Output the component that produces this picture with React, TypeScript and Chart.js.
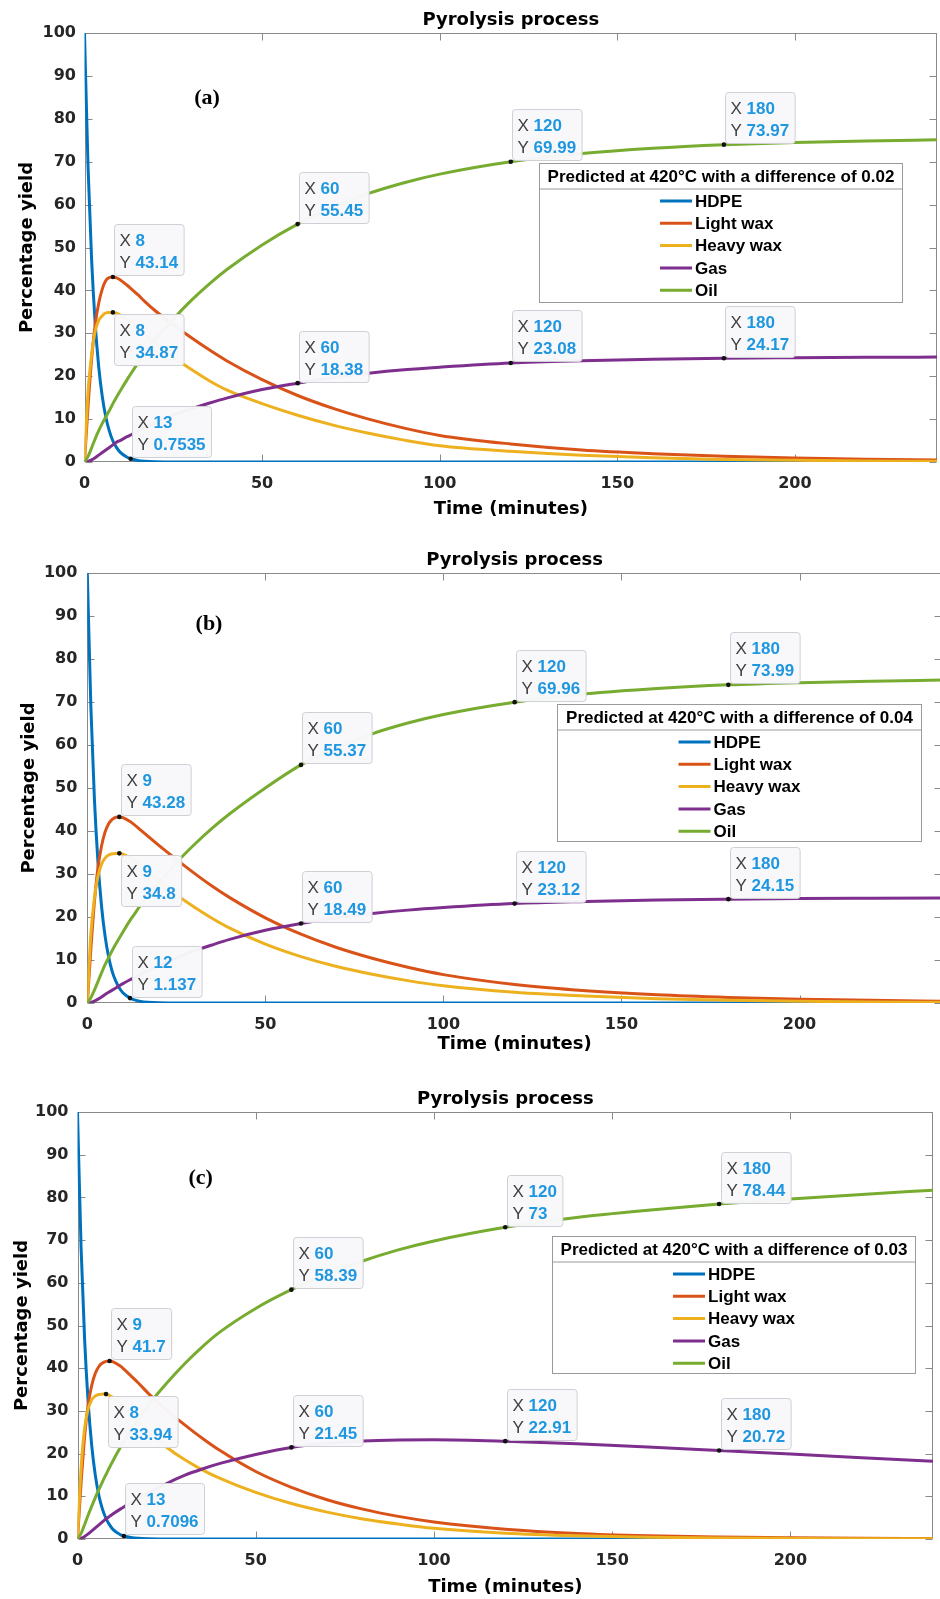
import React, { useEffect, useRef } from 'react';
import { Chart, registerables } from 'chart.js';

Chart.register(...registerables);

// ---------------- data ----------------
const timeMinutes = [0, 1, 2, 3, 4, 5, 6, 7, 8, 9, 10, 12, 13, 15, 17, 20, 25, 30, 35, 40, 50, 60, 70, 80, 90, 100, 120, 140, 160, 180, 200, 220, 240];
const seriesNames = ['HDPE', 'Light wax', 'Heavy wax', 'Gas', 'Oil'];
const xTickValues = [0, 50, 100, 150, 200];
const yTickValues = [0, 10, 20, 30, 40, 50, 60, 70, 80, 90, 100];
const chartTitle = 'Pyrolysis process';
const xAxisTitle = 'Time (minutes)';
const yAxisTitle = 'Percentage yield';

// Panel (a)
const hdpeA = [100, 68.7, 47.2, 32.4, 22.2, 15.3, 10.5, 7.2, 4.9, 3.4, 2.3, 1.1, 0.7535, 0.36, 0.17, 0.05, 0.01, 0, 0, 0, 0, 0, 0, 0, 0, 0, 0, 0, 0, 0, 0, 0, 0];
const lightWaxA = [0, 13, 24, 32, 37, 40.3, 42.3, 43.0, 43.14, 42.9, 42.5, 41.2, 40.5, 39.0, 37.4, 35.2, 32.0, 29.0, 26.2, 23.6, 19.2, 15.5, 12.5, 10.0, 7.9, 6.2, 4.2, 2.8, 1.95, 1.35, 0.95, 0.65, 0.45];
const heavyWaxA = [0, 16.5, 25, 30.5, 33, 34.1, 34.75, 34.85, 34.87, 34.7, 34.3, 33.2, 32.6, 31.2, 29.8, 27.6, 24.4, 21.6, 19.0, 16.8, 13.6, 10.9, 8.6, 6.7, 5.1, 3.8, 2.5, 1.6, 1.0, 0.6, 0.38, 0.24, 0.15];
const gasA = [0, 0.15, 0.5, 1.0, 1.6, 2.2, 2.8, 3.4, 4.0, 4.6, 5.0, 5.9, 6.3, 7.2, 8.0, 9.2, 11.0, 12.4, 13.7, 14.9, 16.9, 18.38, 19.7, 20.7, 21.5, 22.1, 23.08, 23.6, 23.95, 24.17, 24.3, 24.4, 24.45];
const oilA = [0, 1.3, 3.3, 5.4, 7.3, 9.0, 10.5, 12.0, 13.6, 15.1, 16.5, 19.2, 20.5, 23.0, 25.3, 28.6, 33.3, 37.6, 41.4, 44.8, 50.6, 55.45, 59.4, 62.6, 65.1, 67.1, 69.99, 71.9, 73.15, 73.97, 74.5, 74.85, 75.1];
const tipTimesA = [8, 8, 13, 60, 120, 180, 60, 120, 180];
const tipValuesA = [43.14, 34.87, 0.7535, 55.45, 69.99, 73.97, 18.38, 23.08, 24.17];
const legendTitleA = 'Predicted at 420°C with a difference of 0.02';

// Panel (b)
const hdpeB = [100, 68.9, 47.4, 32.7, 22.5, 15.5, 10.7, 7.3, 5.1, 3.5, 2.4, 1.137, 0.78, 0.37, 0.18, 0.06, 0.01, 0, 0, 0, 0, 0, 0, 0, 0, 0, 0, 0, 0, 0, 0, 0, 0];
const lightWaxB = [0, 12.5, 23.5, 31.5, 36.5, 39.8, 41.7, 42.7, 43.2, 43.28, 43.1, 42.2, 41.6, 40.2, 38.8, 36.7, 33.4, 30.2, 27.2, 24.5, 19.8, 16.0, 12.9, 10.4, 8.3, 6.6, 4.3, 2.85, 1.9, 1.3, 0.9, 0.62, 0.43];
const heavyWaxB = [0, 16, 24.5, 29.5, 32.3, 33.7, 34.4, 34.7, 34.79, 34.8, 34.6, 33.8, 33.3, 32.0, 30.6, 28.5, 25.2, 22.3, 19.7, 17.4, 13.7, 10.8, 8.5, 6.7, 5.2, 4.0, 2.5, 1.6, 1.0, 0.62, 0.4, 0.25, 0.16];
const gasB = [0, 0.12, 0.45, 0.9, 1.4, 2.0, 2.5, 3.0, 3.5, 4.0, 4.5, 5.4, 5.8, 6.7, 7.5, 8.7, 10.5, 12.1, 13.5, 14.8, 16.9, 18.49, 19.8, 20.8, 21.6, 22.2, 23.12, 23.6, 23.95, 24.15, 24.28, 24.36, 24.42];
const oilB = [0, 1.2, 3.0, 5.0, 7.0, 8.9, 10.6, 12.2, 13.7, 15.1, 16.5, 19.2, 20.4, 22.8, 25.0, 27.8, 32.6, 36.8, 40.6, 44.0, 50.0, 55.37, 59.4, 62.6, 65.1, 67.1, 69.96, 71.9, 73.15, 73.99, 74.5, 74.85, 75.1];
const tipTimesB = [9, 9, 12, 60, 120, 180, 60, 120, 180];
const tipValuesB = [43.28, 34.8, 1.137, 55.37, 69.96, 73.99, 18.49, 23.12, 24.15];
const legendTitleB = 'Predicted at 420°C with a difference of 0.04';

// Panel (c)
const hdpeC = [100, 68.3, 46.7, 31.9, 21.8, 14.9, 10.2, 7.0, 4.8, 3.3, 2.2, 1.04, 0.7096, 0.33, 0.15, 0.05, 0.01, 0, 0, 0, 0, 0, 0, 0, 0, 0, 0, 0, 0, 0, 0, 0, 0];
const lightWaxC = [0, 13, 24, 31.5, 36, 38.8, 40.4, 41.2, 41.6, 41.7, 41.5, 40.5, 39.8, 38.2, 36.6, 34.0, 30.2, 26.8, 23.6, 20.7, 15.8, 12.1, 9.2, 7.0, 5.3, 4.0, 2.3, 1.3, 0.75, 0.45, 0.27, 0.16, 0.1];
const heavyWaxC = [0, 16.5, 26, 30.5, 32.6, 33.5, 33.85, 33.93, 33.94, 33.6, 33.1, 31.7, 30.9, 29.2, 27.5, 25.0, 21.5, 18.6, 16.2, 14.2, 10.9, 8.3, 6.3, 4.7, 3.5, 2.5, 1.35, 0.75, 0.42, 0.24, 0.14, 0.08, 0.05];
const gasC = [0, 0.2, 0.6, 1.2, 1.9, 2.6, 3.3, 4.0, 4.7, 5.3, 5.9, 7.0, 7.5, 8.5, 9.4, 10.8, 13.0, 14.9, 16.4, 17.7, 19.8, 21.45, 22.4, 22.95, 23.2, 23.25, 22.91, 22.3, 21.55, 20.72, 19.9, 19.05, 18.2];
const oilC = [0, 1.3, 3.4, 5.6, 7.7, 9.7, 11.6, 13.4, 15.1, 16.8, 18.4, 21.4, 22.8, 25.5, 28.0, 31.5, 36.5, 41.0, 45.0, 48.5, 54.0, 58.39, 62.0, 65.1, 67.7, 69.8, 73.0, 75.3, 77.0, 78.44, 79.6, 80.7, 81.7];
const tipTimesC = [9, 8, 13, 60, 120, 180, 60, 120, 180];
const tipValuesC = [41.7, 33.94, 0.7096, 58.39, 73, 78.44, 21.45, 22.91, 20.72];
const legendTitleC = 'Predicted at 420°C with a difference of 0.03';

// ---------------- styles / layout ----------------
const seriesColors = ['#0072BD', '#D95319', '#EDB120', '#7E2F8E', '#77AC30'];
const SANS = '"Liberation Sans", Arial, sans-serif';
const DEJAVU = '"DejaVu Sans", sans-serif';
const SERIF = '"Liberation Serif", "Times New Roman", serif';

type Layout = {
  tag: string;
  canvasTop: number;
  canvasWidth: number;
  canvasHeight: number;
  yAxisWidth: number;
  padRight: number;
  yTitlePad: number;
  yTickPad: number;
  xAxisHeight: number;
  legend: { right: number; top: number; width: number; height: number };
  tagPos: { dx: number; dy: number };
  belowTip: number;
};

const layoutA: Layout = {
  tag: '(a)', canvasTop: 0, canvasWidth: 940, canvasHeight: 520, yAxisWidth: 84.5, padRight: 3,
  yTitlePad: 17, yTickPad: 8.5, xAxisHeight: 58,
  legend: { right: 34.7, top: 130.3, width: 363, height: 139 }, tagPos: { dx: 122.5, dy: 65.7 }, belowTip: 1,
};
const layoutB: Layout = {
  tag: '(b)', canvasTop: 540, canvasWidth: 945, canvasHeight: 515, yAxisWidth: 87.3, padRight: 3,
  yTitlePad: 19, yTickPad: 10, xAxisHeight: 52,
  legend: { right: 21, top: 130.7, width: 364, height: 137 }, tagPos: { dx: 121.7, dy: 51.7 }, belowTip: 1,
};
const layoutC: Layout = {
  tag: '(c)', canvasTop: 1079, canvasWidth: 940, canvasHeight: 519, yAxisWidth: 77.5, padRight: 7,
  yTitlePad: 12, yTickPad: 9, xAxisHeight: 59,
  legend: { right: 17.6, top: 124.3, width: 363, height: 136.5 }, tagPos: { dx: 123.2, dy: 66.3 }, belowTip: 1,
};

type PanelProps = {
  layout: Layout;
  series: number[][];
  tipTimes: number[];
  tipValues: number[];
  legendTitle: string;
};

function roundRect(ctx: CanvasRenderingContext2D, x: number, y: number, w: number, h: number, r: number) {
  ctx.beginPath();
  ctx.moveTo(x + r, y);
  ctx.lineTo(x + w - r, y);
  ctx.arcTo(x + w, y, x + w, y + r, r);
  ctx.lineTo(x + w, y + h - r);
  ctx.arcTo(x + w, y + h, x + w - r, y + h, r);
  ctx.lineTo(x + r, y + h);
  ctx.arcTo(x, y + h, x, y + h - r, r);
  ctx.lineTo(x, y + r);
  ctx.arcTo(x, y, x + r, y, r);
  ctx.closePath();
}

function PyrolysisPanel({ layout, series, tipTimes, tipValues, legendTitle }: PanelProps) {
  const ref = useRef<HTMLCanvasElement>(null);

  useEffect(() => {
    const canvas = ref.current;
    if (!canvas) return;

    const framePlugin = {
      id: 'matlabFrame',
      beforeDatasetsDraw(chart: any) {
        const { ctx, chartArea: a, scales } = chart;
        const xs = scales.x, ys = scales.y;
        const L = Math.round(a.left) + 0.5, R = Math.round(a.right) - 0.5;
        const T = Math.round(a.top) + 0.5, B = Math.round(a.bottom) - 0.5;
        ctx.save();
        ctx.strokeStyle = '#8a8a8a';
        ctx.lineWidth = 1;
        ctx.strokeRect(L, T, R - L, B - T);
        ctx.beginPath();
        xTickValues.forEach((v) => {
          const px = Math.round(xs.getPixelForValue(v)) + 0.5;
          ctx.moveTo(px, B); ctx.lineTo(px, B - 7);
          ctx.moveTo(px, T); ctx.lineTo(px, T + 7);
        });
        yTickValues.forEach((v) => {
          const py = Math.round(ys.getPixelForValue(v)) + 0.5;
          ctx.moveTo(L, py); ctx.lineTo(L + 7, py);
          ctx.moveTo(R, py); ctx.lineTo(R - 7, py);
        });
        ctx.stroke();
        ctx.restore();
      },
    };

    const overlayPlugin = {
      id: 'overlays',
      afterDraw(chart: any) {
        const { ctx, chartArea: a, scales } = chart;
        const xs = scales.x, ys = scales.y;
        ctx.save();

        // panel tag
        ctx.font = `bold 22px ${SERIF}`;
        ctx.fillStyle = '#000';
        ctx.textAlign = 'center';
        ctx.textBaseline = 'middle';
        ctx.fillText(layout.tag, a.left + layout.tagPos.dx, a.top + layout.tagPos.dy);

        // legend box
        const lg = layout.legend;
        const lx = Math.round(a.right - lg.right - lg.width) + 0.5;
        const ly = Math.round(a.top + lg.top) + 0.5;
        const lw = Math.round(lg.width), lh = Math.round(lg.height);
        ctx.fillStyle = '#ffffff';
        ctx.fillRect(lx, ly, lw, lh);
        ctx.strokeStyle = '#9a9a9a';
        ctx.lineWidth = 1;
        ctx.strokeRect(lx, ly, lw, lh);
        ctx.beginPath();
        ctx.moveTo(lx, ly + 25.5);
        ctx.lineTo(lx + lw, ly + 25.5);
        ctx.stroke();
        ctx.font = `bold 17px ${SANS}`;
        ctx.fillStyle = '#000';
        ctx.textAlign = 'center';
        ctx.fillText(legendTitle, lx + lw / 2, ly + 13.5);
        const maxW = Math.max(...seriesNames.map((n) => ctx.measureText(n).width));
        const groupW = 32 + 3 + maxW;
        const gx = lx + lw / 2 - groupW / 2;
        ctx.textAlign = 'left';
        chart.data.datasets.forEach((ds: any, i: number) => {
          const cy = ly + 37.5 + i * 22.3;
          ctx.strokeStyle = ds.borderColor;
          ctx.lineWidth = 3;
          ctx.beginPath();
          ctx.moveTo(gx, cy);
          ctx.lineTo(gx + 32, cy);
          ctx.stroke();
          ctx.fillStyle = '#000';
          ctx.fillText(ds.label, gx + 35, cy + 1);
        });

        // data tips
        tipTimes.forEach((t, i) => {
          const v = tipValues[i];
          const px = xs.getPixelForValue(t);
          const py = ys.getPixelForValue(v);
          const xsTxt = String(t), ysTxt = String(v);
          ctx.font = `17px ${SANS}`;
          const wX = ctx.measureText('X ').width;
          const wY = ctx.measureText('Y ').width;
          ctx.font = `bold 17px ${SANS}`;
          const wxv = ctx.measureText(xsTxt).width;
          const wyv = ctx.measureText(ysTxt).width;
          const bw = Math.max(wX + wxv, wY + wyv) + 11;
          const bh = 51;
          const below = i === layout.belowTip;
          const bx = Math.round(px + 1.5) + 0.5;
          const by = Math.round(below ? py + 1.5 : py - 1.5 - bh) + 0.5;
          roundRect(ctx, bx, by, bw, bh, 3);
          ctx.fillStyle = 'rgba(248,248,251,0.97)';
          ctx.fill();
          ctx.strokeStyle = '#cfcfd6';
          ctx.lineWidth = 1;
          ctx.stroke();
          ctx.textAlign = 'left';
          ctx.textBaseline = 'middle';
          ctx.font = `17px ${SANS}`;
          ctx.fillStyle = '#404040';
          ctx.fillText('X ', bx + 5, by + 17);
          ctx.fillText('Y ', bx + 5, by + 38.5);
          ctx.font = `bold 17px ${SANS}`;
          ctx.fillStyle = '#1f97e0';
          ctx.fillText(xsTxt, bx + 5 + wX, by + 17);
          ctx.fillText(ysTxt, bx + 5 + wY, by + 38.5);
          ctx.fillStyle = '#111';
          ctx.beginPath();
          ctx.arc(px, py, 2.3, 0, Math.PI * 2);
          ctx.fill();
        });
        ctx.restore();
      },
    };

    const datasets = series.map((values, i) => ({
      label: seriesNames[i],
      data: timeMinutes.map((t, k) => ({ x: t, y: values[k] })),
      borderColor: seriesColors[i],
      backgroundColor: seriesColors[i],
      borderWidth: 3,
      pointRadius: 0,
      fill: false,
      cubicInterpolationMode: 'monotone' as const,
      order: series.length - 1 - i,
    }));

    const chart = new Chart(canvas, {
      type: 'line',
      data: { datasets },
      options: {
        animation: false,
        responsive: false,
        events: [],
        layout: { padding: { left: 0, right: layout.padRight, top: 0, bottom: 0 } },
        plugins: {
          legend: { display: false },
          tooltip: { enabled: false },
          title: {
            display: true,
            text: chartTitle,
            fullSize: false,
            color: '#000',
            font: { family: DEJAVU, size: 18, weight: 'bold' },
            padding: { top: 10, bottom: 1.4 },
          },
        },
        scales: {
          x: {
            type: 'linear',
            min: 0,
            max: 240,
            grid: { display: false, drawTicks: false },
            border: { display: false },
            ticks: {
              color: '#262626',
              font: { family: DEJAVU, size: 16, weight: 'bold' },
              padding: 12,
              maxRotation: 0,
              autoSkip: false,
            },
            afterBuildTicks: (ax: any) => { ax.ticks = xTickValues.map((v) => ({ value: v })); },
            afterFit: (ax: any) => { ax.height = layout.xAxisHeight; },
            title: {
              display: true,
              text: xAxisTitle,
              color: '#000',
              font: { family: DEJAVU, size: 18, weight: 'bold' },
              padding: { top: 0, bottom: 0 },
            },
          },
          y: {
            type: 'linear',
            min: 0,
            max: 100,
            grid: { display: false, drawTicks: false },
            border: { display: false },
            ticks: {
              color: '#262626',
              font: { family: DEJAVU, size: 16, weight: 'bold' },
              padding: layout.yTickPad,
              autoSkip: false,
            },
            afterBuildTicks: (ax: any) => { ax.ticks = yTickValues.map((v) => ({ value: v })); },
            afterFit: (ax: any) => { ax.width = layout.yAxisWidth; },
            title: {
              display: true,
              text: yAxisTitle,
              color: '#000',
              font: { family: DEJAVU, size: 18, weight: 'bold' },
              padding: { top: layout.yTitlePad, bottom: 0 },
            },
          },
        },
      } as any,
      plugins: [framePlugin, overlayPlugin],
    });

    return () => chart.destroy();
  }, []);

  return (
    <div style={{ position: 'absolute', left: 0, top: layout.canvasTop, width: layout.canvasWidth, height: layout.canvasHeight }}>
      <canvas ref={ref} width={layout.canvasWidth} height={layout.canvasHeight} style={{ display: 'block' }} />
    </div>
  );
}

export default function App() {
  return (
    <div style={{ position: 'absolute', left: 0, top: 0, width: 940, height: 1599, overflow: 'hidden', background: '#fff' }}>
      <PyrolysisPanel layout={layoutA} series={[hdpeA, lightWaxA, heavyWaxA, gasA, oilA]} tipTimes={tipTimesA} tipValues={tipValuesA} legendTitle={legendTitleA} />
      <PyrolysisPanel layout={layoutB} series={[hdpeB, lightWaxB, heavyWaxB, gasB, oilB]} tipTimes={tipTimesB} tipValues={tipValuesB} legendTitle={legendTitleB} />
      <PyrolysisPanel layout={layoutC} series={[hdpeC, lightWaxC, heavyWaxC, gasC, oilC]} tipTimes={tipTimesC} tipValues={tipValuesC} legendTitle={legendTitleC} />
    </div>
  );
}
